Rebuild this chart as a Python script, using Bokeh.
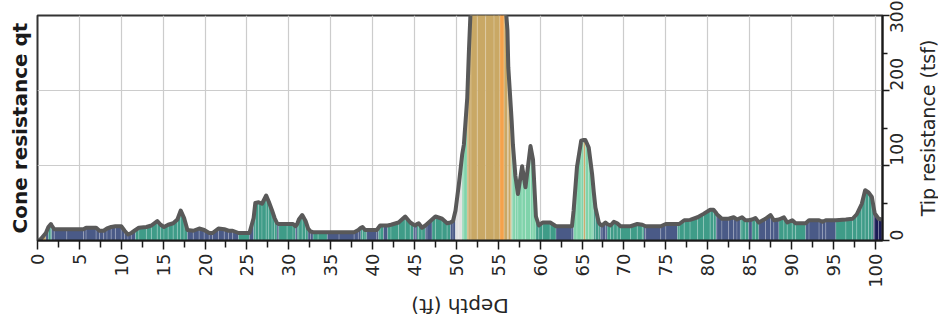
from math import pi
from bokeh.plotting import figure
from bokeh.layouts import row, column
from bokeh.models import Range1d, FixedTicker, Title
from bokeh.core.properties import value
from bokeh.embed import file_html
from bokeh.resources import INLINE

# ---- data ----
depth = [0.0, 0.4, 1.0, 1.3, 1.6, 1.7, 2.0, 3.5, 5.5, 5.8,
         7.0, 7.4, 7.9, 8.3, 8.8, 9.3, 10.0, 10.4, 10.8, 11.2,
         11.7, 12.1, 13.0, 13.6, 14.3, 14.7, 15.1, 15.6, 16.2, 16.7,
         17.1, 17.5, 17.9, 18.6, 19.3, 19.9, 20.5, 20.9, 21.6, 22.3,
         22.8, 23.3, 24.0, 25.3, 25.8, 26.0, 26.4, 26.8, 27.3, 27.6,
         28.0, 28.3, 28.6, 28.8, 29.8, 30.5, 30.8, 31.0, 31.2, 31.6,
         32.0, 32.3, 32.6, 32.9, 33.5, 34.6, 36.0, 37.8, 38.3, 38.6,
         38.8, 39.1, 39.3, 40.5, 40.7, 40.9, 41.3, 41.8, 42.2, 43.1,
         43.9, 44.5, 44.9, 45.1, 45.3, 45.5, 45.9, 46.3, 46.5, 47.1,
         47.5, 48.3, 48.9, 49.3, 49.6, 49.9, 50.3, 50.7, 50.9, 51.3,
         51.5, 51.75, 52.5, 53.5, 54.5, 55.2, 55.7, 56.1, 56.2, 56.5,
         56.6, 56.75, 57.05, 57.35, 57.85, 58.25, 58.85, 59.15, 59.5, 59.85,
         60.3, 61.2, 61.9, 63.8, 64.0, 64.4, 64.9, 65.2, 65.4, 65.8,
         66.2, 66.4, 66.6, 67.0, 67.2, 67.4, 67.8, 68.0, 68.4, 68.8,
         69.2, 69.6, 70.8, 71.6, 72.2, 72.4, 72.6, 74.4, 75.0, 76.4,
         76.6, 77.2, 77.9, 78.8, 79.5, 80.3, 80.7, 81.0, 81.1, 81.7,
         82.5, 83.1, 83.5, 83.9, 84.1, 84.5, 84.9, 85.3, 85.7, 86.1,
         86.9, 87.5, 87.9, 88.5, 89.1, 89.5, 90.1, 90.5, 91.7, 92.1,
         93.3, 93.7, 94.1, 95.3, 96.5, 97.3, 97.8, 98.4, 98.8, 99.2,
         99.6, 99.8, 99.95, 100.4, 100.8]

qt = [0, 2, 10, 18, 22, 20, 15, 15, 15, 17,
      17, 13, 13, 16, 18, 19, 19, 13, 8, 10,
      14, 17, 18, 20, 26, 21, 18, 21, 23, 28,
      40, 30, 14, 13, 16, 14, 10, 10, 16, 15,
      13, 13, 10, 10, 30, 50, 51, 49, 60, 52,
      40, 30, 23, 22, 22, 22, 19, 22, 28, 34,
      26, 16, 12, 11, 11, 11, 11, 11, 14, 17,
      18, 14, 14, 14, 17, 20, 20, 20, 21, 24,
      32, 24, 21, 20, 22, 23, 17, 20, 22, 28,
      32, 29, 23, 24, 26, 40, 75, 115, 128, 190,
      253, 320, 390, 420, 410, 380, 340, 280, 231, 178,
      160, 128, 86, 62, 99, 71, 126, 108, 32, 20,
      24, 24, 19, 19, 40, 98, 133, 134, 134, 124,
      89, 65, 44, 24, 21, 20, 24, 22, 20, 25,
      23, 19, 19, 22, 21, 20, 19, 19, 22, 22,
      22, 27, 27.5, 31, 35.5, 41, 41, 37, 35, 29,
      29, 31, 28, 30, 31, 27, 27, 28, 30, 24,
      29, 34, 27, 28, 31, 24, 27, 23, 23, 27,
      27, 25, 27, 27, 28, 29, 35, 49, 67, 64,
      58, 45, 36, 29, 28]

# soil behaviour zone of the interval starting at each depth
zone = ["S", "A", "S", "T", "T", "S", "S", "S", "S", "S",
        "S", "S", "S", "S", "S", "S", "S", "S", "S", "S",
        "T", "T", "T", "T", "T", "T", "T", "T", "T", "T",
        "T", "T", "S", "S", "S", "S", "S", "S", "S", "S",
        "S", "S", "T", "S", "T", "T", "T", "T", "T", "T",
        "T", "T", "S", "T", "T", "T", "S", "T", "T", "T",
        "T", "S", "S", "T", "T", "S", "S", "S", "S", "T",
        "T", "T", "S", "S", "T", "T", "S", "T", "T", "T",
        "T", "T", "S", "S", "T", "T", "T", "S", "S", "T",
        "T", "T", "T", "S", "S", "G", "G", "M", "M", "A",
        "A", "A", "A", "A", "A", "O", "A", "A", "A", "A",
        "M", "M", "M", "M", "M", "M", "M", "M", "T", "T",
        "T", "T", "S", "S", "M", "M", "M", "A", "M", "M",
        "M", "T", "T", "T", "S", "S", "S", "T", "T", "T",
        "T", "T", "T", "T", "T", "S", "S", "S", "S", "T",
        "T", "T", "T", "T", "T", "T", "T", "S", "S", "S",
        "S", "S", "S", "T", "T", "T", "S", "T", "T", "S",
        "S", "S", "S", "T", "T", "T", "T", "T", "S", "S",
        "S", "S", "S", "T", "T", "T", "T", "T", "T", "T",
        "T", "N", "N", "N", "N"]

zone_colors = {"N": "#1b1c56", "S": "#4a5a87", "T": "#3f9c88", "M": "#80d3ab",
               "G": "#e2e2e2", "A": "#c9a865", "O": "#f4a24c"}

x_ticks = [0, 5, 10, 15, 20, 25, 30, 35, 40, 45, 50, 55, 60, 65, 70, 75, 80, 85, 90, 95, 100]
x_minor = [2.5, 7.5, 12.5, 17.5, 22.5, 27.5, 32.5, 37.5, 42.5, 47.5, 52.5, 57.5,
           62.5, 67.5, 72.5, 77.5, 82.5, 87.5, 92.5, 97.5]
y_ticks = [0, 100, 200, 300]
y_minor = [50, 150, 250]

x_title = "Depth (ft)"
y_title = "Tip resistance (tsf)"
left_title = "Cone resistance qt"

TEXT = "#262626"

# ---- main figure ----
p = figure(width=916, height=293, output_backend="svg", toolbar_location=None,
           x_range=Range1d(0, 100.87), y_range=Range1d(0, 300),
           y_axis_location="right",
           min_border_left=37, min_border_right=34, min_border_top=15, min_border_bottom=53)
p.background_fill_color = "white"
p.border_fill_color = "white"
p.outline_line_color = "#333333"
p.outline_line_width = 2

# fill under the curve, coloured by zone
xs, ys, cols = [], [], []
for i in range(len(depth) - 1):
    xs.append([depth[i], depth[i], depth[i + 1], depth[i + 1]])
    ys.append([0, qt[i], qt[i + 1], 0])
    cols.append(zone_colors[zone[i]])
p.patches(xs=xs, ys=ys, fill_color=cols, line_color="white", line_alpha=0.3, line_width=0.6)

p.line(depth, qt, line_color="#595959", line_width=4, line_join="round")

# grids
p.xgrid.ticker = FixedTicker(ticks=x_ticks)
p.ygrid.ticker = FixedTicker(ticks=y_ticks)
for g in (p.xgrid, p.ygrid):
    g.grid_line_color = "#cccccc"
    g.grid_line_width = 1.2

# axes
xa = p.xaxis[0]
xa.ticker = FixedTicker(ticks=x_ticks, minor_ticks=x_minor)
xa.major_label_orientation = pi / 2
ya = p.yaxis[0]
ya.ticker = FixedTicker(ticks=y_ticks, minor_ticks=y_minor)
ya.major_label_orientation = pi / 2
for a in (xa, ya):
    a.axis_line_color = "#1a1a1a"
    a.axis_line_width = 2
    a.major_tick_line_color = "#1a1a1a"
    a.minor_tick_line_color = "#1a1a1a"
    a.major_tick_line_width = 1.5
    a.minor_tick_line_width = 1.5
    a.major_tick_in = 0
    a.minor_tick_in = 0
    a.major_label_text_font = "DejaVu Sans"
    a.major_label_text_color = TEXT
xa.major_label_text_font_size = "18px"
xa.major_tick_out = 9
xa.minor_tick_out = 7
xa.major_label_standoff = 4
ya.major_label_text_font_size = "17px"
ya.major_tick_out = 7
ya.minor_tick_out = 5
ya.major_label_standoff = 7

# left title
p.add_layout(Title(text=left_title, align="center", text_font="DejaVu Sans",
                   text_font_size="20px", text_font_style="bold", text_color="#1a1a1a",
                   standoff=11), "left")


def text_strip(width, height, **kw):
    f = figure(width=width, height=height, output_backend="svg", toolbar_location=None,
               x_axis_type=None, y_axis_type=None, **kw)
    f.grid.visible = False
    f.outline_line_color = None
    f.background_fill_color = "white"
    f.border_fill_color = "white"
    return f


# right strip: y-axis title, sharing the main y range
pr = text_strip(22, 293, x_range=Range1d(0, 1), y_range=p.y_range,
                min_border_left=0, min_border_right=0, min_border_top=15, min_border_bottom=53)
pr.text(x=[0.5], y=[(p.y_range.start + p.y_range.end) / 2], text=[y_title], angle=pi / 2,
        text_font=value("DejaVu Sans"), text_font_size="19px", text_color=TEXT,
        text_align="center", text_baseline="middle")

# bottom strip: x-axis title (upside down), sharing the main x range
pb = text_strip(938, 29, x_range=p.x_range, y_range=Range1d(0, 1),
                min_border_left=37, min_border_right=56, min_border_top=0, min_border_bottom=0)
pb.text(x=[(p.x_range.start + p.x_range.end) / 2], y=[0.586], text=[x_title], angle=pi,
        text_font=value("DejaVu Sans"), text_font_size="20px", text_color=TEXT,
        text_align="center", text_baseline="middle")

layout = column(row(p, pr, spacing=0), pb, spacing=0)

open("out.html", "w").write(file_html(layout, INLINE))
